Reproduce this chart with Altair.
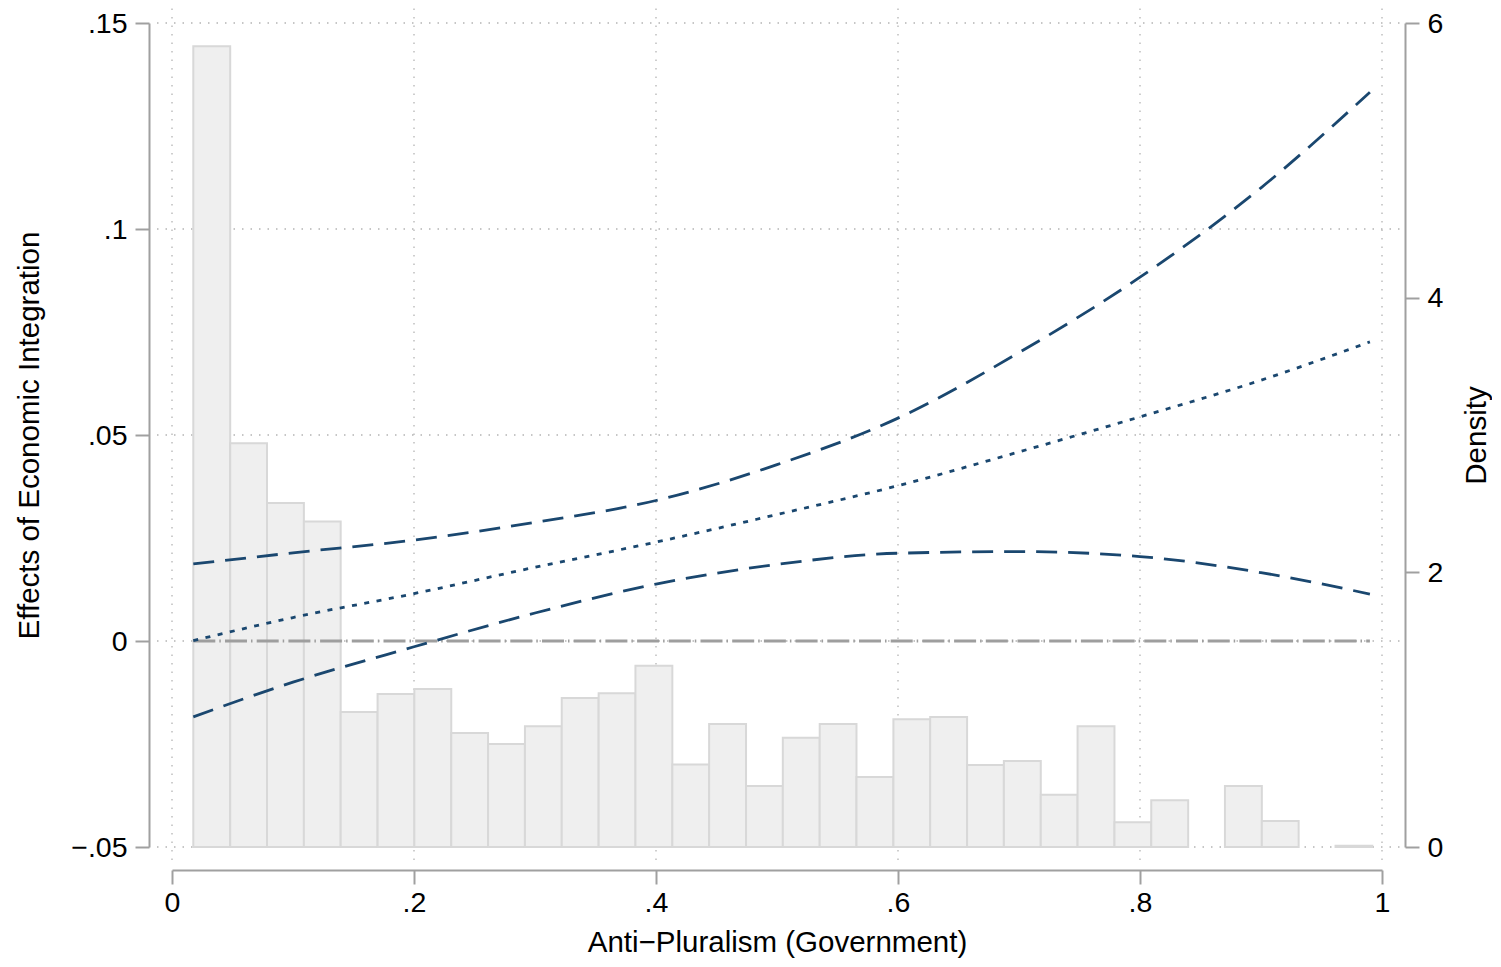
import altair as alt
import pandas as pd

# ---- data ----
X_EVAL = [0.0176, 0.1, 0.2, 0.3, 0.4, 0.5, 0.6, 0.7, 0.8, 0.9, 0.99]
CENTER = [0.0001, 0.0057, 0.0115, 0.0179, 0.0240, 0.0307, 0.0377, 0.0459, 0.0544, 0.0633, 0.0726]
LOWER = [-0.0184, -0.0100, -0.0014, 0.0068, 0.0138, 0.0186, 0.0213, 0.0217, 0.0205, 0.0166, 0.0114]
UPPER = [0.0187, 0.0214, 0.0245, 0.0288, 0.0341, 0.0428, 0.0541, 0.0700, 0.0883, 0.1100, 0.1332]

BIN_EDGES = [0.0176, 0.0481, 0.0785, 0.1090, 0.1394, 0.1699, 0.2003, 0.2308, 0.2612,
             0.2917, 0.3221, 0.3526, 0.3830, 0.4135, 0.4439, 0.4744, 0.5048, 0.5353,
             0.5657, 0.5962, 0.6266, 0.6571, 0.6875, 0.7180, 0.7484, 0.7789, 0.8093,
             0.8398, 0.8702, 0.9007, 0.9311, 0.9616, 0.9920]
DENSITY = [5.83, 2.94, 2.505, 2.37, 0.983, 1.114, 1.15, 0.83, 0.75, 0.88,
           1.085, 1.12, 1.32, 0.60, 0.895, 0.445, 0.795, 0.895, 0.51, 0.93,
           0.946, 0.597, 0.626, 0.38, 0.88, 0.18, 0.34, 0.0, 0.445, 0.19,
           0.0, 0.01]

X_TICKS = [0, 0.2, 0.4, 0.6, 0.8, 1]
Y_TICKS = [-0.05, 0, 0.05, 0.1, 0.15]
D_TICKS = [0, 2, 4, 6]

# ---- styling ----
W, H = 1210, 824
OFF = 23
FONT = "Liberation Sans"
NAVY = "#1a476f"
AXIS_GRAY = "#a0a0a0"
GRID_GRAY = "#b4b4b4"

effects = pd.DataFrame({"x": X_EVAL, "center": CENTER, "lower": LOWER, "upper": UPPER})
hist = pd.DataFrame({"left": BIN_EDGES[:-1], "right": BIN_EDGES[1:], "density": DENSITY})
hist = hist[hist["density"] > 0]

xscale = alt.Scale(domain=[0, 1], nice=False, zero=False)
yscale = alt.Scale(domain=[-0.05, 0.15], nice=False, zero=False)
dscale = alt.Scale(domain=[0, 6], nice=False, zero=False)

x_axis = alt.Axis(
    values=X_TICKS, title="Anti\u2212Pluralism (Government)", offset=OFF,
    labelExpr="datum.value == 0 ? '0' : datum.value == 1 ? '1' : replace(format(datum.value, '.1f'), '0.', '.')",
    labelPadding=4, titlePadding=12, labelFlush=False,
)
y_axis = alt.Axis(
    values=Y_TICKS, title="Effects of Economic Integration", offset=OFF, orient="left",
    labelExpr="datum.value == 0 ? '0' : replace(format(datum.value, '.2~f'), '0.', '.')",
    labelPadding=8, titlePadding=26, labelFlush=False,
)
d_axis = alt.Axis(
    values=D_TICKS, title="Density", offset=OFF, orient="right", format="d",
    labelPadding=8, titlePadding=49, titleAngle=270, labelFlush=False,
)

X = alt.X("x:Q", scale=xscale, axis=x_axis)

vgrid = alt.Chart(pd.DataFrame({"x": X_TICKS})).mark_rule(
    color=GRID_GRAY, strokeDash=[1.5, 7], strokeWidth=1.3
).encode(x=X, y=alt.value(-OFF), y2=alt.value(H + 20))

hgrid = alt.Chart(pd.DataFrame({"y": Y_TICKS})).mark_rule(
    color=GRID_GRAY, strokeDash=[1.5, 7], strokeWidth=1.3
).encode(y=alt.Y("y:Q", scale=yscale, axis=None), x=alt.value(-15), x2=alt.value(W + 20))

bars = alt.Chart(hist).mark_rect(
    fill="#efefef", stroke="#d8d8d8", strokeWidth=2
).encode(
    x=alt.X("left:Q", scale=xscale, axis=x_axis), x2="right:Q",
    y=alt.Y("density:Q", scale=dscale, axis=d_axis), y2=alt.datum(0),
)

base = alt.Chart(effects).encode(x=X)
zero = base.mark_line(color="#9e9e9e", strokeWidth=3, strokeDash=[22, 4, 1.5, 4.2]).encode(
    y=alt.YDatum(0, scale=yscale, axis=y_axis)
)
lower = base.mark_line(color=NAVY, strokeWidth=2.8, strokeDash=[21, 11], interpolate="monotone").encode(
    y=alt.Y("lower:Q", scale=yscale, axis=y_axis)
)
upper = base.mark_line(color=NAVY, strokeWidth=2.8, strokeDash=[21, 11], interpolate="monotone").encode(
    y=alt.Y("upper:Q", scale=yscale, axis=y_axis)
)
center = base.mark_line(color=NAVY, strokeWidth=2.8, strokeDash=[5, 7.5], interpolate="monotone").encode(
    y=alt.Y("center:Q", scale=yscale, axis=y_axis)
)
lines = alt.layer(zero, lower, upper, center)

chart = alt.layer(vgrid, hgrid, bars, lines).resolve_scale(y="independent").properties(
    width=W, height=H,
    autosize=alt.AutoSizeParams(type="none"),
    padding={"left": 164, "top": 15, "right": 110, "bottom": 111},
    background="white",
).configure_view(stroke=None).configure_axis(
    domainColor=AXIS_GRAY, domainWidth=2, tickColor=AXIS_GRAY, tickWidth=2, tickSize=14,
    labelFont=FONT, labelFontSize=28.5, labelColor="black",
    titleFont=FONT, titleFontSize=29.5, titleColor="black", titleFontWeight="normal",
    grid=False,
)

chart.save("out.html", embed_options={"renderer": "svg", "actions": False})
